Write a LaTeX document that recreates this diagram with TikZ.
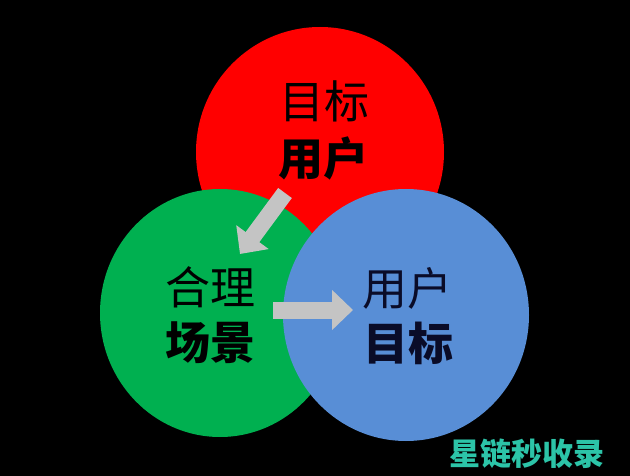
\documentclass[tikz,border=0pt]{standalone}
\usepackage{fontspec}
\newfontfamily\cjk{Noto Sans CJK SC}
\usetikzlibrary{arrows.meta}
\definecolor{ringred}{RGB}{255,0,0}
\definecolor{ringgreen}{RGB}{0,176,80}
\definecolor{ringblue}{RGB}{88,142,214}
\definecolor{flowgray}{RGB}{196,196,196}
\definecolor{marktEal}{RGB}{44,196,168}
\definecolor{navytext}{RGB}{10,12,40}

\begin{document}
\begin{tikzpicture}[x=1pt,y=-1pt,
  word/.style={font=\cjk\fontsize{45}{47}\selectfont, inner sep=0pt},
  boldword/.style={word, font=\cjk\bfseries\fontsize{45}{47}\selectfont},
  flow/.style={flowgray, line width=17pt, -{Triangle[width=39pt,length=21pt]}}]
\fill [black] (0,0) rectangle (630,476);
\useasboundingbox (0,0) rectangle (630,476);
% the three rings
\fill [ringred] (320,152) ellipse (124 and 125);
\fill [ringgreen] (220,313) ellipse (120 and 124);
\fill [ringblue] (406,315) ellipse (123 and 126);
% labels
\node [word] (goal1) at (324,101) {目标};
\node [boldword] (goal2) at (323,158) {用户};
\node [word] (scene1) at (210,287) {合理};
\node [boldword] (scene2) at (210,343) {场景};
\node [word, navytext] (user1) at (407,288) {用户};
\node [boldword, navytext] (user2) at (408,343) {目标};
% arrows
\coordinate (downstart) at (285,193);
\coordinate (downend) at (240,254);
\coordinate (rightstart) at (273,310);
\coordinate (rightend) at (353,310);
\draw [flow] (downstart) -- (downend);
\draw [flow] (rightstart) -- (rightend);
\node [font=\cjk\bfseries\fontsize{31}{32}\selectfont, marktEal, inner sep=0pt] (mark) at (527,454) {星链秒收录};
\end{tikzpicture}
\end{document}
